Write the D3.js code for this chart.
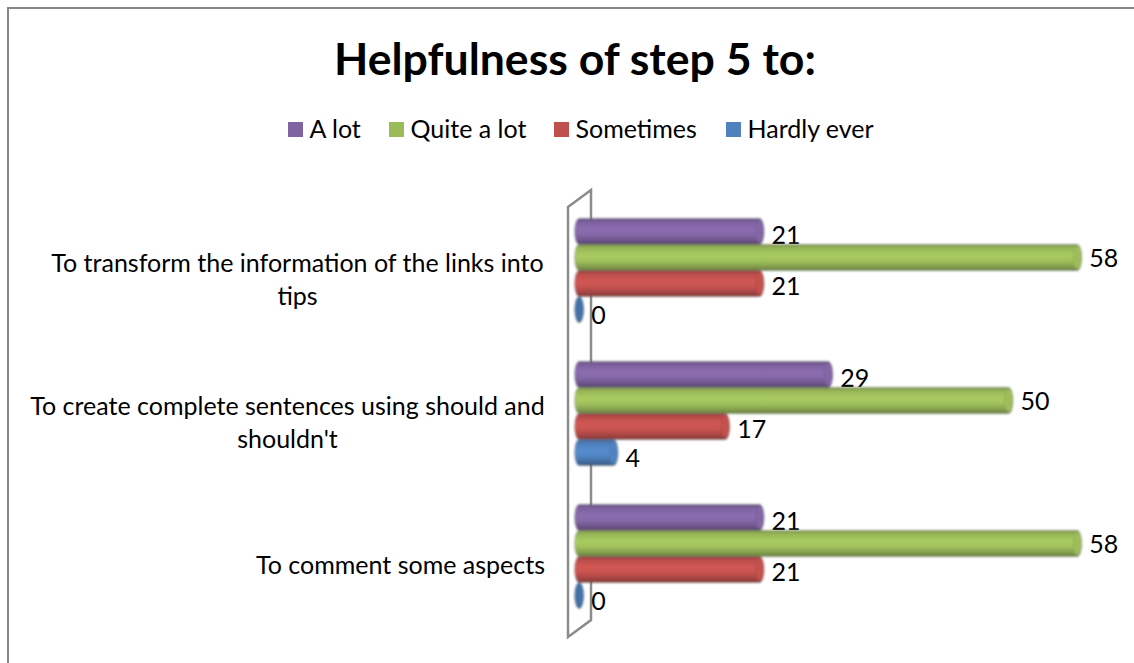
<!DOCTYPE html>
<html>
<head>
<meta charset="utf-8">
<script src="https://cdn.jsdelivr.net/npm/d3@7"></script>
<style>
  html, body { margin: 0; padding: 0; background: #fff; }
  svg { display: block; }
  text { font-family: Lato, "Open Sans", sans-serif; fill: #000; }
</style>
</head>
<body>
<svg id="chart" width="1134" height="663"></svg>
<script>
const titleText = "Helpfulness of step 5 to:";
const categories = [
  ["To transform the information of the links into", "tips"],
  ["To create complete sentences using should and", "shouldn't"],
  ["To comment some aspects"]
];
const seriesNames = ["A lot", "Quite a lot", "Sometimes", "Hardly ever"];
const seriesColors = ["#8064a2", "#9bbb59", "#c0504d", "#4f81bd"];
const aLot = [21, 29, 21];
const quiteALot = [58, 50, 58];
const sometimes = [21, 17, 21];
const hardlyEver = [0, 4, 0];

const seriesValues = [aLot, quiteALot, sometimes, hardlyEver];

const svg = d3.select("#chart");
const defs = svg.append("defs");

// frame round the chart
svg.append("path")
  .attr("d", "M8 663 V8 H1134")
  .attr("fill", "none").attr("stroke", "#868686").attr("stroke-width", 2);

svg.append("text")
  .attr("x", 575).attr("y", 75)
  .attr("text-anchor", "middle")
  .attr("font-size", 44.6).attr("font-weight", 700)
  .text(titleText);

// legend
const legendX = [288, 389, 554, 726];
const legend = svg.append("g").selectAll("g").data(seriesNames).join("g")
  .attr("transform", (d, i) => `translate(${legendX[i]},122)`);
legend.append("rect").attr("width", 15).attr("height", 15)
  .attr("fill", (d, i) => seriesColors[i]);
legend.append("text").attr("x", 21.5).attr("y", 16)
  .attr("font-size", 25).text(d => d);

// scales
const x = d3.scaleLinear().domain([0, 58]).range([579.2, 1077.2]);
const yGroup = d3.scaleBand().domain(d3.range(categories.length)).range([199.5, 628.5]);
const ySeries = d3.scaleBand().domain(d3.range(seriesNames.length)).range([19, 123]);

// gradient per series, tube shading from top to bottom
function shade(c, k) {
  return k > 0 ? d3.color(c).brighter(k).formatHex() : d3.color(c).darker(-k).formatHex();
}
seriesColors.forEach((c, i) => {
  const gr = defs.append("linearGradient").attr("id", `tube${i}`)
    .attr("x1", 0).attr("y1", 0).attr("x2", 0).attr("y2", 1);
  gr.selectAll("stop").data([[0, -0.8], [0.12, -0.1], [0.4, 0.25], [0.62, 0.1], [0.85, -0.45], [1, -1.2]])
    .join("stop")
    .attr("offset", d => d[0])
    .attr("stop-color", d => shade(c, d[1]));
});
defs.append("filter").attr("id", "soft")
  .attr("x", "-5%").attr("y", "-5%").attr("width", "110%").attr("height", "110%")
  .append("feGaussianBlur").attr("stdDeviation", 0.8);

// 3d wall behind the bars
const wall = [[568, 207], [591, 190], [591, 620], [568, 637]];
svg.append("polygon")
  .attr("points", wall.join(" "))
  .attr("fill", "none").attr("stroke", "#8c8c8c").attr("stroke-width", 2.5);

// category labels
svg.append("g").selectAll("text").data(categories).join("text")
  .attr("font-size", 25)
  .each(function(lines, i) {
    const cy = yGroup(i) + yGroup.bandwidth() / 2;
    const single = lines.length === 1;
    d3.select(this)
      .attr("text-anchor", single ? "end" : "middle")
      .selectAll("tspan").data(lines).join("tspan")
      .attr("x", single ? 545 : (i === 0 ? 297.5 : 287.5))
      .attr("y", (d, j) => cy + 17 + (j - (lines.length - 1) / 2) * 33)
      .text(d => d);
  });

const rows = [];
seriesValues.forEach((vals, s) => vals.forEach((v, c) => rows.push({ s, c, v })));
const rx = 4.5;
const rowY = d => yGroup(d.c) + ySeries(d.s);
const h = ySeries.bandwidth();

// value labels go under the bars, the next tube cuts off the purple ones
const labelDrop = [12, 9, 11, 14];
svg.append("g").selectAll("text").data(rows).join("text")
  .attr("x", d => x(d.v) + 12)
  .attr("y", d => rowY(d) + h / 2 + labelDrop[d.s])
  .attr("font-size", 25)
  .text(d => d.v);

// cylinders
const bars = svg.append("g").attr("filter", "url(#soft)")
  .selectAll("g").data(rows).join("g");

bars.append("path")
  .attr("d", d => {
    const x0 = x(0), x1 = x(d.v), y0 = rowY(d), y1 = y0 + h;
    return `M${x0} ${y0} L${x1} ${y0} A${rx} ${h / 2} 0 0 1 ${x1} ${y1} L${x0} ${y1} A${rx} ${h / 2} 0 0 1 ${x0} ${y0} Z`;
  })
  .attr("fill", d => `url(#tube${d.s})`)
  .attr("stroke", "#777").attr("stroke-opacity", 0.6).attr("stroke-width", 0.8);

// end cap of each tube
bars.append("ellipse")
  .attr("cx", d => x(d.v))
  .attr("cy", d => rowY(d) + h / 2)
  .attr("rx", rx - 0.5).attr("ry", h / 2 - 1.5)
  .attr("fill", d => d.v === 0 ? shade(seriesColors[d.s], -0.4) : shade(seriesColors[d.s], 0.05))
  .attr("stroke", d => shade(seriesColors[d.s], -0.5)).attr("stroke-opacity", 0.35).attr("stroke-width", 1);
</script>
</body>
</html>
